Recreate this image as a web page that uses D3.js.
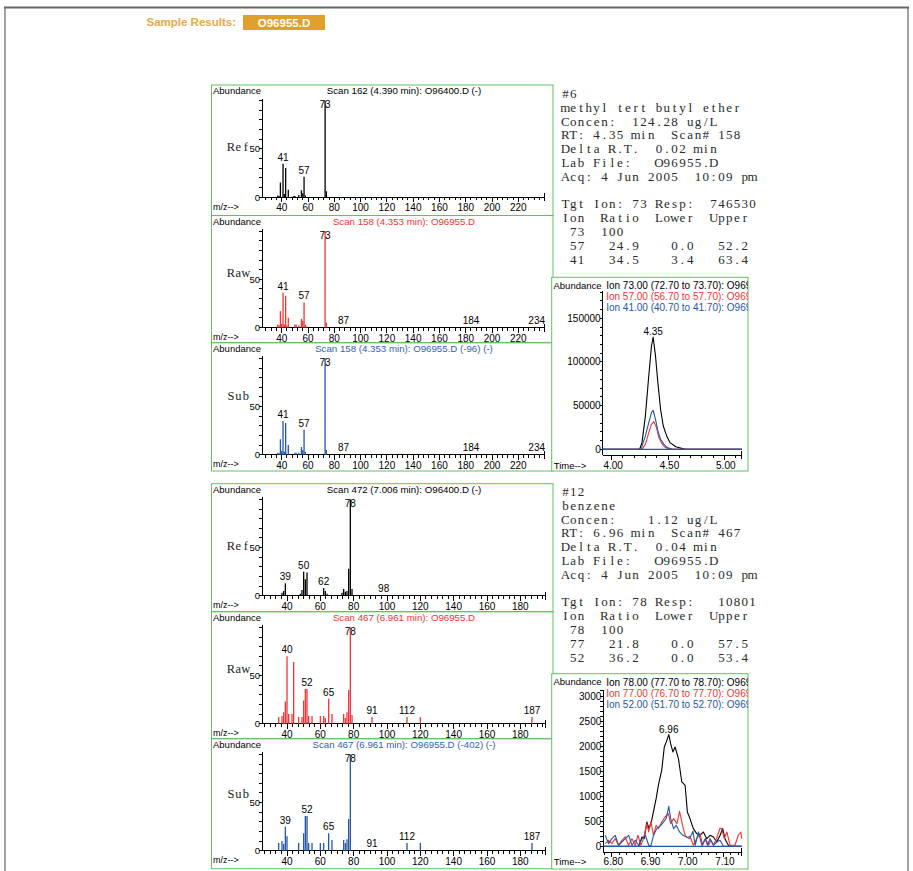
<!DOCTYPE html>
<html><head><meta charset="utf-8">
<script src="https://cdn.jsdelivr.net/npm/d3@7"></script>
<style>
body{margin:0;background:#fff}
svg{display:block}
text{font-family:"Liberation Sans",Arial,sans-serif}
.cour{font-family:"Liberation Serif","Times New Roman",serif}
</style>
</head><body><svg id="c" width="913" height="871"></svg>
<script>
// ---------------- DATA ----------------
const sampleName = "O96955.D";

// MTBE spectra (m/z, % abundance)
const mtbeRefMz = [37, 38, 39, 41, 42, 43, 45, 49, 50, 53, 55, 56, 57, 58, 73, 74];
const mtbeRefAb = [1.5, 1, 15, 34.5, 3, 30, 7.5, 1, 1, 2, 7, 4, 21, 1.5, 100, 6];
const mtbeRefLabels = [41, 57, 73];

const mtbeRawMz = [37, 38, 39, 40, 41, 42, 43, 44, 45, 50, 51, 53, 55, 56, 57, 58, 59, 73, 74, 87, 184, 234];
const mtbeRawAb = [3, 2, 17, 4, 36, 3, 33, 2, 10, 3, 3, 2, 9, 7, 26, 3, 1, 100, 5, 0.6, 0.6, 0.6];
const mtbeRawLabels = [41, 57, 73, 87, 184, 234];

const mtbeSubMz = [37, 38, 39, 40, 41, 42, 43, 45, 50, 51, 53, 55, 56, 57, 58, 73, 74, 87, 184, 234];
const mtbeSubAb = [2, 1.5, 16, 4, 35, 3, 33, 10, 2, 2, 2, 8, 5, 26, 3, 100, 5, 0.3, 0.3, 0.3];
const mtbeSubLabels = [41, 57, 73, 87, 184, 234];

// Benzene spectra
const bzRefMz = [37, 38, 39, 48, 49, 50, 51, 52, 62, 63, 64, 73, 74, 75, 76, 77, 78, 79, 98];
const bzRefAb = [3, 5, 13, 2, 6, 25, 17, 24, 8, 5, 2, 3, 7, 4, 5, 28, 100, 7, 0.5];
const bzRefLabels = [39, 50, 62, 78, 98];

const bzRawMz = [35, 37, 38, 39, 40, 41, 43, 44, 47, 49, 50, 51, 52, 53, 55, 60, 62, 63, 65, 67, 74, 75, 76, 77, 78, 79, 91, 112, 120, 187];
const bzRawAb = [7, 8, 12, 23, 70, 10, 10, 64, 7, 7, 24, 36, 36, 8, 8, 8, 8, 6, 26, 10, 10, 6, 12, 35, 100, 9, 7, 7, 7, 7];
const bzRawLabels = [40, 52, 65, 78, 91, 112, 187];

const bzSubMz = [35, 37, 38, 39, 40, 47, 50, 51, 52, 53, 55, 60, 62, 65, 67, 74, 75, 76, 77, 78, 91, 112, 120, 187];
const bzSubAb = [8, 10, 7, 25, 15, 8, 18, 36, 36, 8, 8, 8, 8, 18, 11, 11, 8, 12, 33, 100, 0.3, 8, 8, 8];
const bzSubLabels = [39, 52, 65, 78, 91, 112, 187];

const mtbeXTicks = [40, 60, 80, 100, 120, 140, 160, 180, 200, 220];
const bzXTicks = [40, 60, 80, 100, 120, 140, 160, 180];

// MTBE ion chromatograms (time min, abundance)
const c1Ion73T = [3.92, 4.20, 4.248, 4.269, 4.299, 4.329, 4.353, 4.368, 4.389, 4.41, 4.434, 4.458, 4.488, 4.518, 4.569, 4.629, 4.659, 5.155];
const c1Ion73V = [0, 0, 0, 7600, 38000, 84000, 118000, 128600, 106900, 76300, 45800, 26700, 15300, 7600, 3000, 760, 0, 0];
const c1Ion57T = [3.92, 4.269, 4.299, 4.329, 4.353, 4.374, 4.398, 4.419, 4.449, 4.479, 4.524, 5.155];
const c1Ion57V = [0, 0, 5700, 19100, 28600, 31700, 24800, 13400, 5700, 1900, 0, 0];
const c1Ion41T = [3.92, 4.26, 4.299, 4.329, 4.353, 4.368, 4.389, 4.41, 4.434, 4.464, 4.494, 4.539, 5.155];
const c1Ion41V = [0, 0, 15300, 30500, 42000, 44700, 34350, 21000, 11450, 5700, 1900, 0, 0];
const c1YTicks = [0, 50000, 100000, 150000];
const c1XTicks = [4.00, 4.50, 5.00];
const c1Legend = ["Ion 73.00 (72.70 to 73.70): O96955.D", "Ion 57.00 (56.70 to 57.70): O96955.D", "Ion 41.00 (40.70 to 41.70): O96955.D"];

// Benzene ion chromatograms
const c2Ion78T = [6.777, 6.872, 6.881, 6.887, 6.894, 6.900, 6.907, 6.919, 6.925, 6.934, 6.941, 6.948, 6.953, 6.958, 6.964, 6.970, 6.979, 6.988, 6.997, 7.003, 7.010, 7.019, 7.028, 7.037, 7.046, 7.055, 7.064, 7.073, 7.082, 7.091, 7.098, 7.104, 7.111, 7.115, 7.149];
const c2Ion78V = [0, 0, 186, 153, 486, 353, 519, 951, 1217, 1517, 1982, 2115, 2228, 2049, 1883, 1982, 1750, 1284, 1217, 685, 552, 353, 253, 220, 286, 153, 220, 186, 86, 220, 353, 153, 53, 0, 0];
const c2Ion77T = [6.782, 6.791, 6.800, 6.809, 6.818, 6.827, 6.836, 6.845, 6.854, 6.863, 6.870, 6.878, 6.885, 6.894, 6.899, 6.905, 6.912, 6.919, 6.925, 6.934, 6.943, 6.952, 6.958, 6.966, 6.975, 6.982, 6.991, 6.997, 7.003, 7.010, 7.019, 7.028, 7.037, 7.044, 7.052, 7.060, 7.066, 7.073, 7.082, 7.091, 7.096, 7.102, 7.109, 7.118, 7.131, 7.140, 7.147, 7.149];
const c2Ion77V = [53, 120, 53, 153, 20, 120, 186, 20, 153, 20, 220, 20, 153, 452, 286, 486, 220, 419, 353, 486, 585, 652, 452, 552, 452, 698, 386, 220, 173, 200, 20, 153, 253, 20, 153, 20, 120, 20, 166, 366, 339, 153, 286, 20, 20, 220, 286, 153];
const c2Ion52T = [6.782, 6.791, 6.800, 6.809, 6.818, 6.827, 6.836, 6.845, 6.854, 6.863, 6.872, 6.881, 6.890, 6.899, 6.905, 6.912, 6.921, 6.930, 6.939, 6.946, 6.953, 6.958, 6.966, 6.973, 6.982, 6.991, 7.001, 7.009, 7.018, 7.024, 7.033, 7.042, 7.051, 7.057, 7.064, 7.073, 7.082, 7.091, 7.100, 7.149];
const c2Ion52V = [220, 53, 153, 220, 20, 86, 153, 220, 20, 120, 20, 153, 220, 20, 7, 220, 353, 406, 486, 552, 798, 552, 353, 419, 286, 220, 186, 153, 299, 20, 286, 20, 153, 20, 153, 20, 86, 120, 0, 0];
const c2YTicks = [0, 500, 1000, 1500, 2000, 2500, 3000];
const c2XTicks = [6.80, 6.90, 7.00, 7.10];
const c2Legend = ["Ion 78.00 (77.70 to 78.70): O96955.D", "Ion 77.00 (76.70 to 77.70): O96955.D", "Ion 52.00 (51.70 to 52.70): O96955.D"];

// Text report blocks
const report1 = ["#6", "methyl tert butyl ether", "Concen:  124.28 ug/L", "RT: 4.35 min  Scan# 158",
  "Delta R.T.  0.02 min", "Lab File:   O96955.D", "Acq: 4 Jun 2005  10:09 pm", "",
  "Tgt Ion: 73 Resp:  746530", "Ion  Ratio  Lower  Upper", " 73  100", " 57   24.9    0.0   52.2", " 41   34.5    3.4   63.4"];
const report2 = ["#12", "benzene", "Concen:    1.12 ug/L", "RT: 6.96 min  Scan# 467",
  "Delta R.T.  0.04 min", "Lab File:   O96955.D", "Acq: 4 Jun 2005  10:09 pm", "",
  "Tgt Ion: 78 Resp:   10801", "Ion  Ratio  Lower  Upper", " 78  100", " 77   21.8    0.0   57.5", " 52   36.2    0.0   53.4"];

// ---------------- STYLE ----------------
const GREEN = "#62c062", RED = "#f03535", BLUE = "#2456aa", BLUE_T = "#2f62b6";

const svg = d3.select("#c");
svg.append("rect").attr("width", 913).attr("height", 871).attr("fill", "#fff");

// page frame
const frame = svg.append("g").attr("stroke", "#666").attr("fill", "none");
frame.append("line").attr("x1", 4).attr("x2", 909).attr("y1", 7.5).attr("y2", 7.5).attr("stroke-width", 2);
frame.append("line").attr("x1", 5).attr("x2", 5).attr("y1", 7).attr("y2", 871).attr("stroke-width", 1.2);
frame.append("line").attr("x1", 908).attr("x2", 908).attr("y1", 7).attr("y2", 871).attr("stroke-width", 1.2);

// header
svg.append("text").attr("x", 236).attr("y", 26).attr("text-anchor", "end").attr("font-size", 11.5)
  .attr("font-weight", "bold").attr("fill", "#e6a94a").text("Sample Results:");
svg.append("rect").attr("x", 243).attr("y", 15).attr("width", 82).attr("height", 15).attr("fill", "#e0a02a");
svg.append("text").attr("x", 284).attr("y", 26.5).attr("text-anchor", "middle").attr("font-size", 11.5)
  .attr("font-weight", "bold").attr("fill", "#fff").text(sampleName);

function line(g, x1, y1, x2, y2, c, w) {
  return g.append("line").attr("x1", x1).attr("y1", y1).attr("x2", x2).attr("y2", y2)
    .attr("stroke", c || "#000").attr("stroke-width", w || 1);
}

// monospaced text with serif glyphs: each character centred in its own cell
function monoText(g, s, x0, y, cell, size, fill) {
  const xs = Array.from(s).map((ch, i) => (x0 + (i + 0.5) * cell).toFixed(2)).join(" ");
  return g.append("text").attr("class", "cour").attr("x", xs).attr("y", y)
    .attr("text-anchor", "middle").attr("font-size", size).attr("fill", fill || "#222")
    .attr("xml:space", "preserve").style("white-space", "pre").text(s);
}

// ---------------- SPECTRA ----------------
function spectrum(p) {
  const g = svg.append("g");
  const base = p.top + 112, yT = p.top + 15.7;
  const x0 = 262;
  const x = d3.scaleLinear().domain(p.domain).range([x0, x0 + (p.domain[1] - p.domain[0]) * p.ppu]);
  const y = d3.scaleLinear().domain([0, 100]).range([base, yT]);

  g.append("rect").attr("x", 211.5).attr("y", p.top).attr("width", 553 - 211.5).attr("height", p.bottom - p.top)
    .attr("fill", "none").attr("stroke", GREEN);

  const ax = g.append("g").attr("shape-rendering", "crispEdges");
  line(ax, x0, yT - 2, x0, base);
  line(ax, x0, base, x.range()[1], base);
  d3.range(0, 101, 10).forEach(v => line(ax, x0 - 3, y(v), x0, y(v)));
  [0, 50].forEach(v => g.append("text").attr("x", 260).attr("y", y(v) + 3.5).attr("text-anchor", "end")
    .attr("font-size", 9.5).text(v));

  const minor = [];
  for (let k = -20; k < 200; k++) {
    const v = 40 + k * p.step;
    if (v >= p.domain[0] + 0.5 && v <= p.domain[1] - 0.5) minor.push(v);
  }
  minor.forEach(v => line(ax, x(v), base, x(v), base + 3));
  p.xTicks.forEach(v => line(ax, x(v), base, x(v), base + 5));
  line(ax, x.range()[1], base - 4, x.range()[1], base + 4);
  p.xTicks.forEach(v => g.append("text").attr("x", x(v)).attr("y", base + 14).attr("text-anchor", "middle")
    .attr("font-size", 10).text(v));

  // bars
  g.append("g").selectAll("line").data(p.mz).join("line")
    .attr("x1", d => x(d)).attr("x2", d => x(d)).attr("y1", base)
    .attr("y2", (d, i) => y(p.ab[i])).attr("stroke", p.color).attr("stroke-width", 1.3);

  // peak labels
  p.labels.forEach(m => {
    const i = p.mz.indexOf(m);
    const top = y(p.ab[i]);
    g.append("text").attr("x", x(m)).attr("y", Math.max(top - 3, p.top + 23)).attr("text-anchor", "middle")
      .attr("font-size", 10).text(m);
  });

  g.append("text").attr("x", 213).attr("y", p.top + 9).attr("font-size", 9.5).text("Abundance");
  g.append("text").attr("x", 404).attr("y", p.top + 9.3).attr("text-anchor", "middle").attr("font-size", 9.7)
    .attr("fill", p.tcolor).text(p.title);
  g.append("text").attr("x", 213).attr("y", p.top + 124.5).attr("font-size", 9).text("m/z-->");
  monoText(g, p.side, 249.5 - 3 * 7.4, y(50) + p.sideDy, 7.4, 12.5, "#222");
}

const MT = { domain: [25, 240], ppu: 1.3144, step: 4, xTicks: mtbeXTicks };
const BZ = { domain: [25, 195], ppu: 1.6667, step: 20 / 6, xTicks: bzXTicks };

spectrum({ ...MT, top: 85, bottom: 215.5, mz: mtbeRefMz, ab: mtbeRefAb, labels: mtbeRefLabels, color: "#000",
  title: "Scan 162 (4.390 min): O96400.D (-)", tcolor: "#000", side: "Ref", sideDy: 2.5 });
spectrum({ ...MT, top: 215.5, bottom: 342.7, mz: mtbeRawMz, ab: mtbeRawAb, labels: mtbeRawLabels, color: RED,
  title: "Scan 158 (4.353 min): O96955.D", tcolor: RED, side: "Raw", sideDy: -2.3 });
spectrum({ ...MT, top: 342.7, bottom: 471, mz: mtbeSubMz, ab: mtbeSubAb, labels: mtbeSubLabels, color: BLUE,
  title: "Scan 158 (4.353 min): O96955.D (-96) (-)", tcolor: BLUE_T, side: "Sub", sideDy: -7 });

spectrum({ ...BZ, top: 483.7, bottom: 611.7, mz: bzRefMz, ab: bzRefAb, labels: bzRefLabels, color: "#000",
  title: "Scan 472 (7.006 min): O96400.D (-)", tcolor: "#000", side: "Ref", sideDy: 2.5 });
spectrum({ ...BZ, top: 611.7, bottom: 738.7, mz: bzRawMz, ab: bzRawAb, labels: bzRawLabels, color: RED,
  title: "Scan 467 (6.961 min): O96955.D", tcolor: RED, side: "Raw", sideDy: -2.3 });
spectrum({ ...BZ, top: 738.7, bottom: 868.7, mz: bzSubMz, ab: bzSubAb, labels: bzSubLabels, color: BLUE,
  title: "Scan 467 (6.961 min): O96955.D (-402) (-)", tcolor: BLUE_T, side: "Sub", sideDy: -5 });

// ---------------- REPORT TEXT ----------------
function report(lines, y0) {
  const g = svg.append("g");
  lines.forEach((s, i) => { if (s.length) monoText(g, s, 561.5, y0 + i * 13.8, 7.8, 13, "#2a2a2a"); });
}
report(report1, 98);
report(report2, 496);

// ---------------- CHROMATOGRAMS ----------------
function chrom(c, id) {
  const g = svg.append("g");
  svg.append("clipPath").attr("id", id).append("rect")
    .attr("x", c.box[0]).attr("y", c.box[1]).attr("width", c.box[2] - c.box[0]).attr("height", c.box[3] - c.box[1]);
  g.append("rect").attr("x", c.box[0]).attr("y", c.box[1]).attr("width", c.box[2] - c.box[0])
    .attr("height", c.box[3] - c.box[1]).attr("fill", "#fff").attr("stroke", GREEN);

  const x = d3.scaleLinear().domain(c.xDomain).range(c.xRange);
  const y = d3.scaleLinear().domain(c.yDomain).range(c.yRange);
  const ax = g.append("g").attr("shape-rendering", "crispEdges");
  line(ax, c.xRange[0], c.axisTop, c.xRange[0], c.xAxisY);
  line(ax, c.xRange[0], c.xAxisY, c.xRange[1], c.xAxisY);
  d3.range(0, c.yMax + 1, c.yMinor).forEach(v => line(ax, c.xRange[0] - 3, y(v), c.xRange[0], y(v)));
  c.yTicks.forEach(v => g.append("text").attr("x", c.xRange[0] - 2).attr("y", y(v) + 3.5)
    .attr("text-anchor", "end").attr("font-size", 10).text(v));
  const xm = [];
  for (let k = 0; k < 200; k++) {
    const v = c.xMinorStart + k * c.xMinor;
    if (v <= c.xDomain[1]) xm.push(v);
  }
  xm.forEach(v => line(ax, x(v), c.xAxisY, x(v), c.xAxisY + 3));
  c.xTicks.forEach(v => line(ax, x(v), c.xAxisY, x(v), c.xAxisY + 5));
  line(ax, c.xRange[1], c.xAxisY - 4, c.xRange[1], c.xAxisY + 4);
  c.xTicks.forEach(v => g.append("text").attr("x", x(v) + 1.5).attr("y", c.labelY).attr("text-anchor", "middle")
    .attr("font-size", 10).text(d3.format(".2f")(v)));

  const gen = d3.line().x(d => x(d[0])).y(d => y(d[1]));
  c.series.forEach(s => {
    g.append("path").attr("d", gen(s.t.map((t, i) => [t, s.v[i]]))).attr("fill", "none")
      .attr("stroke", s.color).attr("stroke-width", 1.1).attr("stroke-linejoin", "round");
  });
  line(g, c.xRange[0], y(0), c.xRange[1], y(0), BLUE, 1.2);

  const s0 = c.series[0];
  const im = d3.maxIndex(s0.v);
  g.append("text").attr("x", x(s0.t[im])).attr("y", y(s0.v[im]) - 2).attr("text-anchor", "middle")
    .attr("font-size", 10).text(c.peakLabel);

  g.append("text").attr("x", c.box[0] + 1.8).attr("y", c.box[1] + 11.5).attr("font-size", 9.5).text("Abundance");
  g.append("text").attr("x", c.box[0] + 2).attr("y", c.labelY).attr("font-size", 9.5).text("Time-->");
  const lg = g.append("g").attr("clip-path", `url(#${id})`);
  c.legend.forEach((s, i) => lg.append("text").attr("x", c.box[0] + 54.5).attr("y", c.box[1] + 12 + i * 11)
    .attr("font-size", 10).attr("fill", c.series[i].color).text(s));
}

chrom({
  box: [551.7, 277.3, 748, 471],
  xDomain: [3.92, 5.155], xRange: [602.7, 602.7 + 1.235 * 112.6],
  yDomain: [0, 150000], yRange: [449.3, 318.3], yMax: 180000, yMinor: 10000, axisTop: 291,
  yTicks: c1YTicks, xTicks: c1XTicks, xMinor: 0.1, xMinorStart: 4.0, xAxisY: 455, labelY: 468.7,
  series: [{ t: c1Ion73T, v: c1Ion73V, color: "#000" }, { t: c1Ion57T, v: c1Ion57V, color: RED }, { t: c1Ion41T, v: c1Ion41V, color: BLUE }],
  legend: c1Legend, peakLabel: "4.35"
}, "clip1");

chrom({
  box: [551.7, 673.7, 748, 869],
  xDomain: [6.777, 7.149], xRange: [603.3, 603.3 + 0.372 * 372],
  yDomain: [0, 3000], yRange: [846.3, 696], yMax: 3100, yMinor: 100, axisTop: 690,
  yTicks: c2YTicks, xTicks: c2XTicks, xMinor: 0.02, xMinorStart: 6.78, xAxisY: 852, labelY: 865.3,
  series: [{ t: c2Ion78T, v: c2Ion78V, color: "#000" }, { t: c2Ion77T, v: c2Ion77V, color: RED }, { t: c2Ion52T, v: c2Ion52V, color: BLUE }],
  legend: c2Legend, peakLabel: "6.96"
}, "clip2");
</script></body></html>
